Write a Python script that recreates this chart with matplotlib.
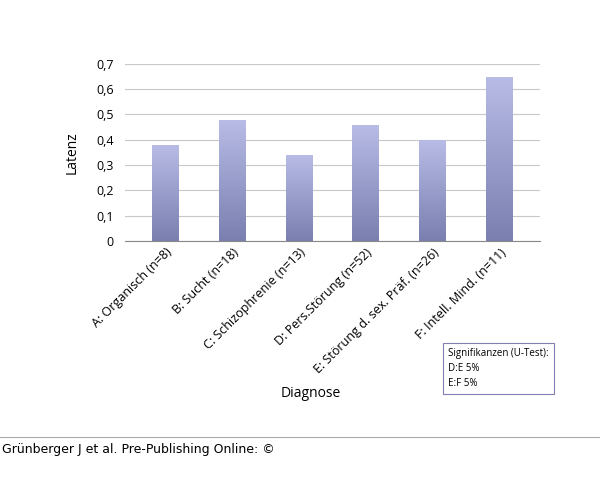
import matplotlib
matplotlib.use("Agg")
import matplotlib.pyplot as plt
import numpy as np
from matplotlib.colors import LinearSegmentedColormap

categories = ["A: Organisch (n=8)", "B: Sucht (n=18)", "C: Schizophrenie (n=13)",
              "D: Pers.Störung (n=52)", "E: Störung d. sex. Präf. (n=26)", "F: Intell. Mind. (n=11)"]
values = [0.38, 0.48, 0.34, 0.46, 0.40, 0.65]

plt.rcParams['font.family'] = ['Open Sans', 'DejaVu Sans']
fig = plt.figure(figsize=(6, 4.99), dpi=100)
ax = fig.add_axes([0.208, 0.517, 0.692, 0.355])
x = np.arange(len(categories))
bars = ax.bar(x, values, width=0.4, color='none', edgecolor='none', zorder=3)
cmap = LinearSegmentedColormap.from_list('g', ['#7b7fb0', '#b8bce6'])
grad = np.linspace(0, 1, 256).reshape(-1, 1)
for b in bars:
    x0, w, h = b.get_x(), b.get_width(), b.get_height()
    im = ax.imshow(grad, extent=[x0, x0 + w, 0, h], origin='lower', cmap=cmap,
                   aspect='auto', zorder=3)
    im.set_clip_path(b)
ax.set_xlim(-0.6, 5.6)
ax.set_ylim(0, 0.7)
ax.set_yticks(np.arange(0, 0.71, 0.1))
ax.set_yticklabels([f"{v:.1f}".replace('.', ',').replace('0,0', '0') for v in np.arange(0, 0.71, 0.1)], fontsize=9)
ax.yaxis.grid(True, color='#c8c8c8', lw=0.8, zorder=0)
for s in ['top', 'right', 'left']:
    ax.spines[s].set_visible(False)
ax.spines['bottom'].set_color('#888888')
ax.tick_params(axis='y', length=0, pad=8)
ax.tick_params(axis='x', length=0)
ax.set_xticks(x)
ax.set_xticklabels(categories, rotation=45, ha='right', rotation_mode='anchor', fontsize=9)
ax.set_ylabel("Latenz", fontsize=10, labelpad=12)
fig.text(0.518, 0.205, "Diagnose", ha='center', fontsize=10)
fig.text(0.747, 0.22, "Signifikanzen (U-Test):\nD:E 5%\nE:F 5%", fontsize=7, va='bottom',
         linespacing=1.5, bbox=dict(boxstyle='square,pad=0.5', fc='white', ec='#8080b0', lw=0.8))
fig.add_artist(plt.Line2D([0, 1], [1 - 437/499] * 2, color='#aaaaaa', lw=0.8))
fig.text(0.003, 1 - 449/499, "Grünberger J et al. Pre-Publishing Online: ©", fontsize=9, va='center',
         family=['DejaVu Sans'])
fig.savefig("out.png", dpi=100, facecolor='white')
